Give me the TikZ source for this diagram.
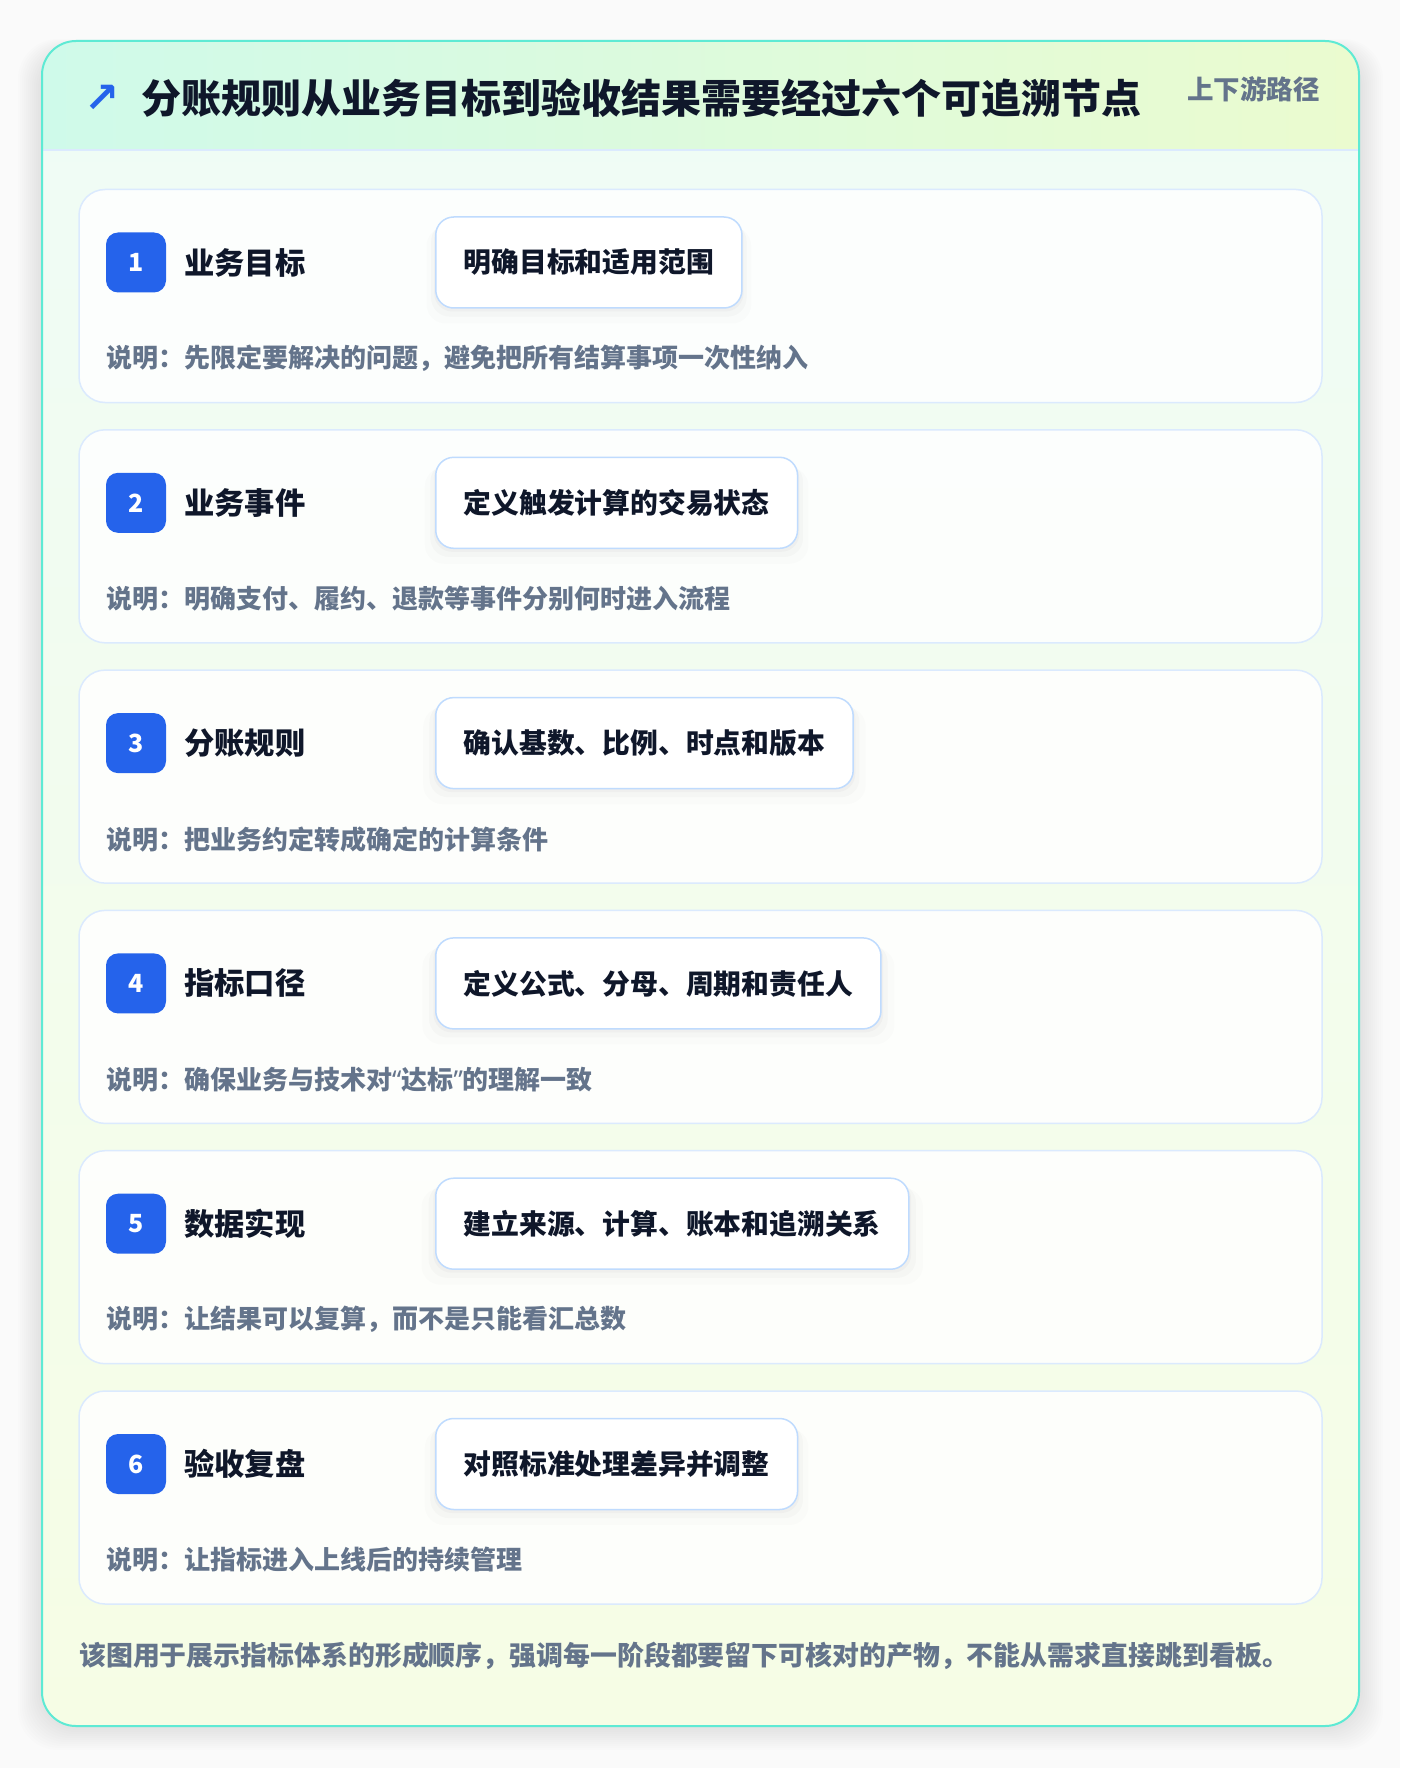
\documentclass[tikz,border=0pt]{standalone}
\usepackage{fontspec}
\setmainfont{Noto Sans CJK SC}
\newfontfamily\symfont{DejaVu Sans}
\newfontfamily\latinfont{Noto Sans}
\usepackage{xcolor}
\usetikzlibrary{positioning, shadows}

\definecolor{pagebg}{HTML}{FAFAFA}
\definecolor{frameteal}{HTML}{5EEAD4}
\definecolor{hdrleft}{HTML}{CFFAEA}
\definecolor{hdrright}{HTML}{EBFBCF}
\definecolor{bodytop}{HTML}{EFFCF6}
\definecolor{bodybot}{HTML}{F6FDE5}
\definecolor{cardline}{HTML}{DBEAFE}
\definecolor{pillline}{HTML}{BFDBFE}
\definecolor{badgeblue}{HTML}{2563EB}
\definecolor{ink}{HTML}{0F172A}
\definecolor{slate}{HTML}{64748B}

\tikzset{
  card/.style={draw=cardline, line width=1.5pt, fill=white, fill opacity=0.85, rounded corners=26pt, minimum width=1243pt, minimum height=213pt, inner sep=0pt},
  badge/.style={fill=badgeblue, rounded corners=12pt, minimum size=60pt, inner sep=0pt, text=white, font=\bfseries\fontsize{25}{25}\selectfont},
  steplabel/.style={anchor=west, inner sep=0pt, text=ink, font=\bfseries\fontsize{30.3}{30.3}\selectfont},
  pill/.style={anchor=west, draw=pillline, line width=1.5pt, fill=white, rounded corners=18pt, minimum height=91pt, inner xsep=28pt, inner ysep=0pt, text=ink, font=\bfseries\fontsize{27.8}{27.8}\selectfont,
    drop shadow={shadow xshift=0pt, shadow yshift=-12pt, shadow scale=1.06, opacity=0.025},
    drop shadow={shadow xshift=0pt, shadow yshift=-7pt, shadow scale=1.03, opacity=0.04},
    drop shadow={shadow xshift=0pt, shadow yshift=-3pt, shadow scale=1.01, opacity=0.05}},
  note/.style={anchor=west, inner sep=0pt, text=slate, font=\bfseries\fontsize{26}{26}\selectfont},
}

\begin{document}
\begin{tikzpicture}[x=1pt, y=-1pt]
  \useasboundingbox[fill=pagebg] (0,0) rectangle (1400,1768);

  % soft shadow under the frame
  \foreach \k in {1,...,12}
    \fill[black, opacity=0.006, rounded corners=40pt] (42-2*\k,41-\k+10) rectangle (1359+2*\k,1726+2*\k);

  % frame body and header band
  \shade[top color=bodytop, bottom color=bodybot, rounded corners=34pt] (42,41) rectangle (1359,1726);
  \begin{scope}
    \clip[rounded corners=34pt] (42,41) rectangle (1359,1726);
    \shade[left color=hdrleft, right color=hdrright] (42,41) rectangle (1359,150);
  \end{scope}
  \draw[cardline, line width=1.5pt] (43,150) -- (1358,150);
  \draw[frameteal, line width=2pt, rounded corners=34pt] (42,41) rectangle (1359,1726);

  \node[text=badgeblue, font=\symfont\bfseries\fontsize{42}{42}\selectfont, inner sep=0pt] (arrow) at (102,99) {↗};
  \node[anchor=west, inner sep=0pt, text=ink, font=\bfseries\fontsize{40}{40}\selectfont] (title) at (141,98) {分账规则从业务目标到验收结果需要经过六个可追溯节点};
  \node[anchor=east, inner sep=0pt, text=slate, font=\bfseries\fontsize{26.5}{26.5}\selectfont] (tag) at (1320,89) {上下游路径};

  % step 1
  \node[card] (card1) at (700.5,296) {};
  \node[badge] (b1) at (136,262.5) {1};
  \node[steplabel] (s1) at (184,262.5) {业务目标};
  \node[pill] (p1) at (435,262.5) {明确目标和适用范围};
  \node[note] (n1) at (106,358.5) {说明：先限定要解决的问题，避免把所有结算事项一次性纳入};

  % step 2
  \node[card] (card2) at (700.5,536.3) {};
  \node[badge] (b2) at (136,502.8) {2};
  \node[steplabel] (s2) at (184,502.8) {业务事件};
  \node[pill] (p2) at (435,502.8) {定义触发计算的交易状态};
  \node[note] (n2) at (106,598.8) {说明：明确支付、履约、退款等事件分别何时进入流程};

  % step 3
  \node[card] (card3) at (700.5,776.6) {};
  \node[badge] (b3) at (136,743.1) {3};
  \node[steplabel] (s3) at (184,743.1) {分账规则};
  \node[pill] (p3) at (435,743.1) {确认基数、比例、时点和版本};
  \node[note] (n3) at (106,839.1) {说明：把业务约定转成确定的计算条件};

  % step 4
  \node[card] (card4) at (700.5,1016.9) {};
  \node[badge] (b4) at (136,983.4) {4};
  \node[steplabel] (s4) at (184,983.4) {指标口径};
  \node[pill] (p4) at (435,983.4) {定义公式、分母、周期和责任人};
  \node[note] (n4) at (106,1079.4) {说明：确保业务与技术对{\latinfont “}达标{\latinfont ”}的理解一致};

  % step 5
  \node[card] (card5) at (700.5,1257.2) {};
  \node[badge] (b5) at (136,1223.7) {5};
  \node[steplabel] (s5) at (184,1223.7) {数据实现};
  \node[pill] (p5) at (435,1223.7) {建立来源、计算、账本和追溯关系};
  \node[note] (n5) at (106,1319.7) {说明：让结果可以复算，而不是只能看汇总数};

  % step 6
  \node[card] (card6) at (700.5,1497.5) {};
  \node[badge] (b6) at (136,1464) {6};
  \node[steplabel] (s6) at (184,1464) {验收复盘};
  \node[pill] (p6) at (435,1464) {对照标准处理差异并调整};
  \node[note] (n6) at (106,1560) {说明：让指标进入上线后的持续管理};

  \node[anchor=west, inner sep=0pt, text=slate, font=\bfseries\fontsize{26.9}{26.9}\selectfont] (footer) at (79,1656) {该图用于展示指标体系的形成顺序，强调每一阶段都要留下可核对的产物，不能从需求直接跳到看板。};
\end{tikzpicture}
\end{document}
